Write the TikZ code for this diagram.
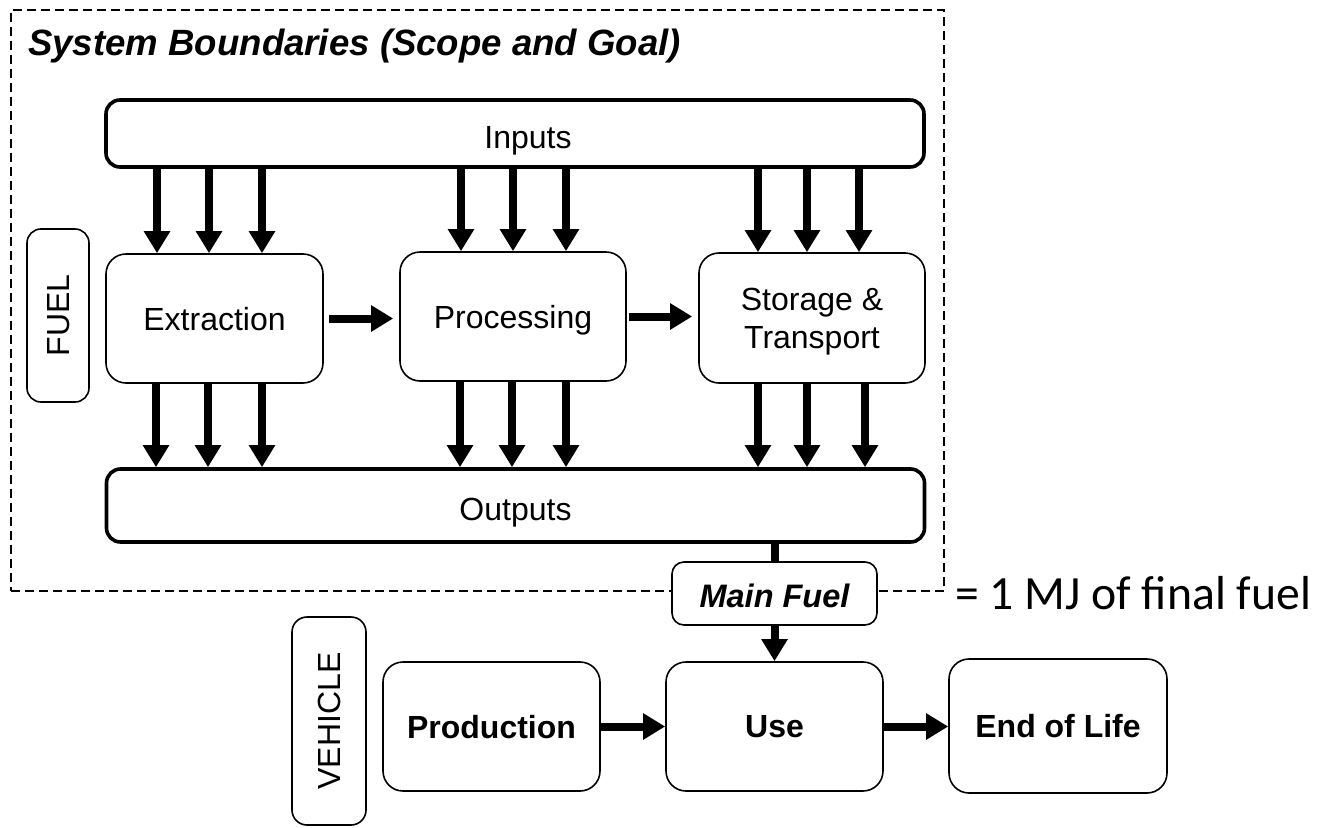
\documentclass[tikz,border=0pt]{standalone}
\usepackage{fontspec}
\setmainfont{Liberation Sans}
\newfontfamily\calib{Carlito}
\usetikzlibrary{arrows.meta}
\begin{document}
\begin{tikzpicture}[x=1pt,y=-1pt,
  box/.style={draw, line width=1.6pt, rounded corners=20pt, inner sep=0pt, fill=white,
              font=\fontsize{32}{38}\selectfont, align=center, text depth=0pt},
  bar/.style={draw, line width=3.6pt, rounded corners=14pt, inner sep=0pt,
              font=\fontsize{32}{37}\selectfont, text height=29pt, text depth=0pt},
  arr/.style={line width=8pt, -{Triangle[length=22pt,width=25pt]}},
  stem/.style={line width=8pt},
  bnd/.style={draw, line width=1.3pt, dash pattern=on 9pt off 5pt, inner sep=0pt}
  ]
\useasboundingbox (0,0) rectangle (1319,827);

% system boundary
\node[bnd, minimum width=933pt, minimum height=581pt] (boundary) at (477.5,300.5) {};
\node[font=\bfseries\itshape\fontsize{36.6}{40}\selectfont, anchor=base west, inner sep=0pt]
  (title) at (28,55) {System Boundaries (Scope and Goal)};

% bars
\node[bar, minimum width=818pt, minimum height=67pt] (inp) at (515,133.5) {\hspace*{26pt}Inputs};
\node[bar, minimum width=818pt, minimum height=73pt] (outp) at (515.5,505.5) {Outputs};

% fuel chain
\node[box, rotate=90, minimum width=173pt, minimum height=62pt, rounded corners=14pt] (fuel) at (58,315.5) {FUEL};
\node[box, minimum width=217pt, minimum height=129pt] (ext) at (214.5,318.5) {Extraction};
\node[box, minimum width=226pt, minimum height=129pt] (proc) at (513,316.5) {Processing};
\node[box, minimum width=226pt, minimum height=130pt] (stor) at (812,318) {Storage \&\\Transport};

\draw[arr, shorten <=5pt, shorten >=6pt] (ext.east) -- (ext.east -| proc.west);
\draw[arr, shorten <=2pt, shorten >=6pt] (proc.east) -- (proc.east -| stor.west);

\foreach \x in {157,209,262} {
  \draw[arr] (\x,0 |- inp.south) -- (\x,0 |- ext.north);
}
\foreach \x in {461,513,566} {
  \draw[arr] (\x,0 |- inp.south) -- (\x,0 |- proc.north);
}
\foreach \x in {758,807,859} {
  \draw[arr] (\x,0 |- inp.south) -- (\x,0 |- stor.north);
}
\foreach \x in {156,208,262} {
  \draw[arr] (\x,0 |- ext.south) -- (\x,0 |- outp.north);
}
\foreach \x in {460,512,566} {
  \draw[arr] (\x,0 |- proc.south) -- (\x,0 |- outp.north);
}
\foreach \x in {758,807,865} {
  \draw[arr] (\x,0 |- stor.south) -- (\x,0 |- outp.north);
}

% main fuel
\node[box, minimum width=205pt, minimum height=63pt, rounded corners=12pt, text height=27pt,
      font=\bfseries\itshape\fontsize{32.5}{37}\selectfont] (main) at (774.5,593.5) {Main Fuel};
\draw[stem] (outp.south -| main.north) -- (main.north);
\node[font=\calib\fontsize{47.7}{52}\selectfont, anchor=base west, inner sep=0pt]
  (mj) at (955,609) {= 1 MJ of final fuel};

% vehicle chain
\node[box, rotate=90, minimum width=208pt, minimum height=74pt, rounded corners=15pt] (veh) at (329,721) {VEHICLE};
\node[box, minimum width=217pt, minimum height=129pt, font=\bfseries\fontsize{32}{37}\selectfont] (prod) at (491.5,726.5) {Production};
\node[box, minimum width=217pt, minimum height=129pt, font=\bfseries\fontsize{32}{37}\selectfont] (use) at (774.5,726.5) {Use};
\node[box, minimum width=218pt, minimum height=134pt, font=\bfseries\fontsize{32}{37}\selectfont] (eol) at (1058,726) {End of Life};

\draw[arr] (main.south) -- (use.north);
\draw[arr] (prod.east) -- (prod.east -| use.west);
\draw[arr] (use.east) -- (use.east -| eol.west);
\end{tikzpicture}
\end{document}
